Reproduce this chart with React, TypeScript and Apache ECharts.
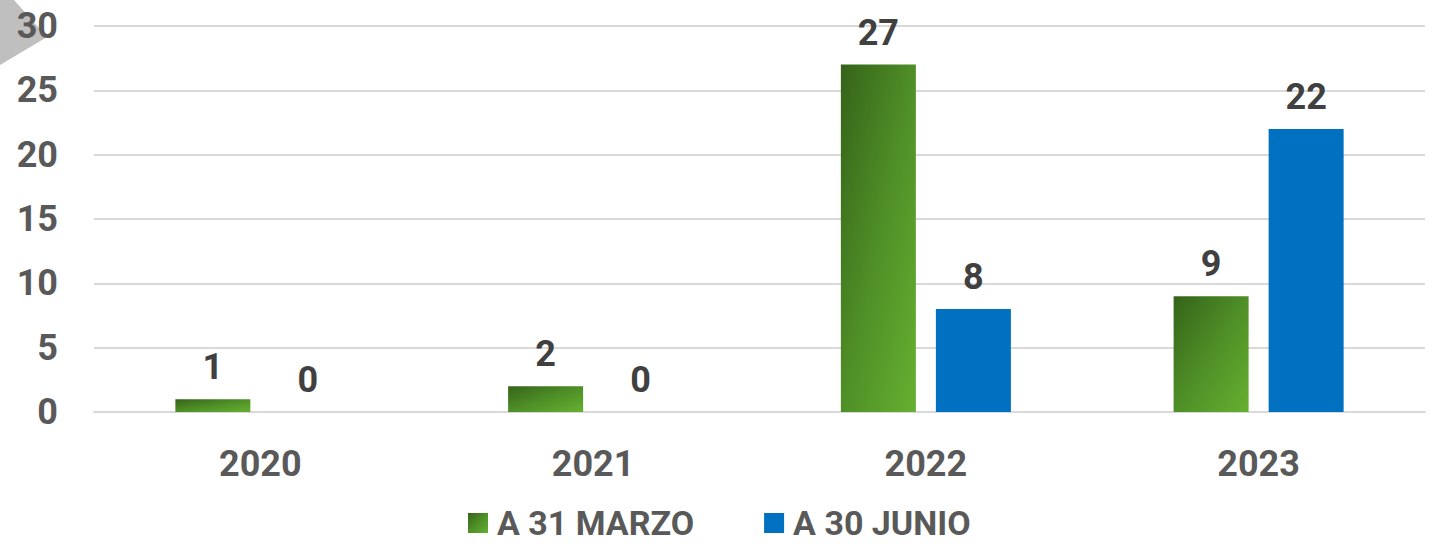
import React, { useEffect, useRef } from "react";
import * as echarts from "echarts";

const categories = ["2020", "2021", "2022", "2023"];
const marzo = [1, 2, 27, 9];
const junio = [0, 0, 8, 22];
const seriesNames = ["A 31 MARZO", "A 30 JUNIO"];

const FONT = "Roboto";

export default function App() {
  const ref = useRef<HTMLDivElement>(null);
  useEffect(() => {
    if (!ref.current) return;
    const chart = echarts.init(ref.current, undefined, { renderer: "svg" });
    const green = new echarts.graphic.LinearGradient(0, 0, 1, 1, [
      { offset: 0, color: "#356319" },
      { offset: 0.5, color: "#4f8f27" },
      { offset: 1, color: "#65b030" },
    ]);
    const labelStyle = {
      show: true,
      position: "top" as const,
      distance: 14,
      fontFamily: FONT,
      fontWeight: "bold" as const,
      fontSize: 36,
      color: "#404040",
    };
    chart.setOption({
      animation: false,
      graphic: [
        {
          type: "polygon",
          z: -1,
          shape: { points: [[0, 0], [14, 0], [47, 37], [0, 65]] },
          style: { fill: "#bfbfbf" },
        },
      ],
      grid: { left: 94, right: 10, top: 26, bottom: 132, containLabel: false },
      legend: {
        left: 468,
        top: 506,
        padding: 0,
        icon: "rect",
        itemWidth: 20,
        itemHeight: 20,
        itemGap: 70,
        textStyle: {
          fontFamily: FONT,
          fontWeight: "bold",
          fontSize: 34,
          lineHeight: 30,
          color: "#595959",
          padding: [0, 0, 0, 4],
        },
        data: seriesNames,
      },
      xAxis: {
        type: "category",
        data: categories,
        axisTick: { show: false },
        axisLine: { show: true, lineStyle: { color: "#d9d9d9", width: 2 } },
        axisLabel: {
          margin: 34,
          fontFamily: FONT,
          fontWeight: "bold",
          fontSize: 36,
          color: "#595959",
        },
      },
      yAxis: {
        type: "value",
        min: 0,
        max: 30,
        interval: 5,
        axisLine: { show: false },
        axisTick: { show: false },
        splitLine: { lineStyle: { color: "#d9d9d9", width: 2 } },
        axisLabel: {
          margin: 36,
          fontFamily: FONT,
          fontWeight: "bold",
          fontSize: 36,
          color: "#595959",
        },
      },
      series: [
        {
          name: seriesNames[0],
          type: "bar",
          data: marzo,
          barWidth: 75,
          barGap: "26.7%",
          itemStyle: { color: green },
          label: labelStyle,
        },
        {
          name: seriesNames[1],
          type: "bar",
          data: junio,
          barWidth: 75,
          itemStyle: { color: "#0070c0" },
          label: labelStyle,
        },
      ],
    });
    return () => chart.dispose();
  }, []);
  return (
    <div
      ref={ref}
      style={{ position: "absolute", left: 0, top: 0, width: 1435, height: 544 }}
    />
  );
}
